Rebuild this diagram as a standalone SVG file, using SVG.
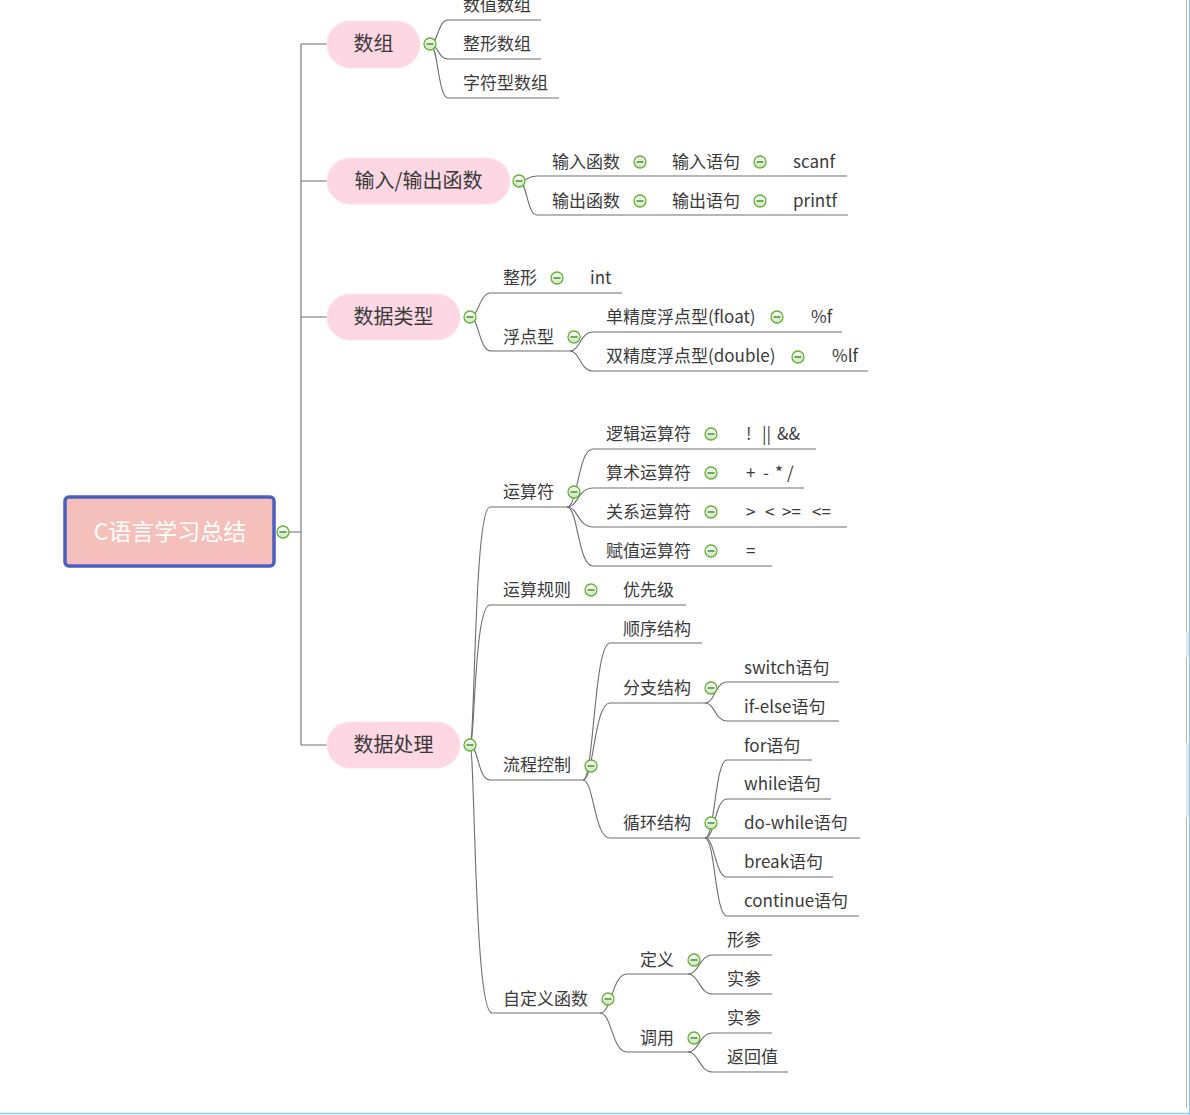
<svg xmlns="http://www.w3.org/2000/svg" xmlns:xlink="http://www.w3.org/1999/xlink" width="1190" height="1115" viewBox="0 0 1190 1115">
<defs>
<linearGradient id="cg" x1="0" y1="0" x2="0" y2="1">
<stop offset="0" stop-color="#ffffff"/>
<stop offset="1" stop-color="#cde3bf"/>
</linearGradient>
<g id="minus">
<circle cx="0" cy="0" r="6" fill="url(#cg)" stroke="#64b037" stroke-width="1.3"/>
<line x1="-3.5" y1="0" x2="3.5" y2="0" stroke="#3f8a1f" stroke-width="1.4"/>
</g>
</defs>
<style>
.t{font-family:"Noto Sans CJK SC","Microsoft YaHei","Noto Sans",sans-serif;font-size:17px;fill:#3a3a3a}
.m{font-family:"Noto Sans CJK SC","Microsoft YaHei","Noto Sans",sans-serif;font-size:20px;fill:#3a3a3a;text-anchor:middle}
.r{font-family:"Noto Sans CJK SC","Microsoft YaHei","Noto Sans",sans-serif;font-size:23px;fill:#ffffff;text-anchor:middle}
.pill{fill:#fdd7e4;stroke:#fbe4ec;stroke-width:1}
.c{fill:none;stroke:#6e6e6e;stroke-width:1.1}
</style>
<rect x="0" y="0" width="1190" height="1115" fill="#ffffff"/>

<g id="connectors">
<path class="c" d="M289 532 H301 M301 44 V745 M301 44 H327 M301 181 H327 M301 317 H327 M301 745 H327"/>
<path class="c" d="M430 44 C438 44 438 20 448 20 H541"/>
<path class="c" d="M430 44 C438 44 438 59 448 59 H541"/>
<path class="c" d="M430 44 C438 44 438 98 448 98 H559"/>
<path class="c" d="M519 181 C527 181 527 176 537 176 H847"/>
<path class="c" d="M519 181 C527 181 527 215 537 215 H848"/>
<path class="c" d="M470 317 C479 317 479 293 491 293 H622"/>
<path class="c" d="M470 317 C479 317 479 351 491 351 H570"/>
<path class="c" d="M570 351 C580 351 580 332 593 332 H842"/>
<path class="c" d="M570 351 C580 351 580 371 593 371 H868"/>
<path class="c" d="M470 745 C475 745 474 507 490 507 H567"/>
<path class="c" d="M470 745 C475 745 474 605 490 605 H686"/>
<path class="c" d="M470 745 C478 745 478 780 490 780 H583"/>
<path class="c" d="M470 745 C475 745 474 1013 492 1013 H600"/>
<path class="c" d="M567 507 C578 507 578 449 593 449 H816"/>
<path class="c" d="M567 507 C578 507 578 488 593 488 H804"/>
<path class="c" d="M567 507 C578 507 578 527 593 527 H847"/>
<path class="c" d="M567 507 C578 507 578 566 593 566 H772"/>
<path class="c" d="M583 780 C594 780 594 643 610 643 H702"/>
<path class="c" d="M583 780 C594 780 594 703 610 703 H705"/>
<path class="c" d="M583 780 C594 780 594 838 610 838 H705"/>
<path class="c" d="M705 703 C715 703 715 682 727 682 H839"/>
<path class="c" d="M705 703 C715 703 715 721 727 721 H839"/>
<path class="c" d="M705 838 C715 838 715 760 727 760 H812"/>
<path class="c" d="M705 838 C715 838 715 799 727 799 H831"/>
<path class="c" d="M705 838 H860"/>
<path class="c" d="M705 838 C715 838 715 877 727 877 H833"/>
<path class="c" d="M705 838 C715 838 715 916 727 916 H859"/>
<path class="c" d="M600 1013 C612 1013 612 974 627 974 H688"/>
<path class="c" d="M600 1013 C612 1013 612 1052 627 1052 H688"/>
<path class="c" d="M688 974 C699 974 699 955 713 955 H772"/>
<path class="c" d="M688 974 C699 974 699 994 713 994 H772"/>
<path class="c" d="M688 1052 C699 1052 699 1033 713 1033 H772"/>
<path class="c" d="M688 1052 C699 1052 699 1072 713 1072 H788"/>
</g>

<g id="root">
<rect x="65" y="497" width="209" height="69" rx="4" fill="#f5c0bc" stroke="#4a5fbf" stroke-width="3.5"/>
<text class="r" x="170" y="540">C语言学习总结</text>
<use xlink:href="#minus" x="283" y="532"/>
</g>

<g id="n-shuzu">
<rect class="pill" x="327" y="21" width="93" height="47" rx="23.5"/>
<text class="m" x="373.5" y="51">数组</text>
<use xlink:href="#minus" x="430" y="44"/>
</g>
<g id="n-shuzhishuzu"><text class="t" x="463" y="11">数值数组</text></g>
<g id="n-zhengxingshuzu"><text class="t" x="463" y="50">整形数组</text></g>
<g id="n-zifuxingshuzu"><text class="t" x="463" y="89">字符型数组</text></g>

<g id="n-io">
<rect class="pill" x="327" y="158" width="183" height="46" rx="23"/>
<text class="m" x="418.5" y="188">输入/输出函数</text>
<use xlink:href="#minus" x="519" y="181"/>
</g>
<g id="n-input"><text class="t" x="552" y="168">输入函数</text><use xlink:href="#minus" x="640" y="162"/></g>
<g id="n-input-stmt"><text class="t" x="672" y="168">输入语句</text><use xlink:href="#minus" x="760" y="162"/></g>
<g id="n-scanf"><text class="t" x="793" y="168">scanf</text></g>
<g id="n-output"><text class="t" x="552" y="207">输出函数</text><use xlink:href="#minus" x="640" y="201"/></g>
<g id="n-output-stmt"><text class="t" x="672" y="207">输出语句</text><use xlink:href="#minus" x="760" y="201"/></g>
<g id="n-printf"><text class="t" x="793" y="207">printf</text></g>

<g id="n-types">
<rect class="pill" x="327" y="294" width="133" height="46" rx="23"/>
<text class="m" x="393.5" y="324">数据类型</text>
<use xlink:href="#minus" x="470" y="317"/>
</g>
<g id="n-zhengxing"><text class="t" x="503" y="284">整形</text><use xlink:href="#minus" x="557" y="278"/></g>
<g id="n-int"><text class="t" x="590" y="284">int</text></g>
<g id="n-fudian"><text class="t" x="503" y="343">浮点型</text><use xlink:href="#minus" x="574" y="337"/></g>
<g id="n-float"><text class="t" x="606" y="323">单精度浮点型(float)</text><use xlink:href="#minus" x="777" y="317"/></g>
<g id="n-pf"><text class="t" x="811" y="323">%f</text></g>
<g id="n-double"><text class="t" x="606" y="362">双精度浮点型(double)</text><use xlink:href="#minus" x="798" y="357"/></g>
<g id="n-plf"><text class="t" x="832" y="362">%lf</text></g>

<g id="n-proc">
<rect class="pill" x="327" y="722" width="133" height="46" rx="23"/>
<text class="m" x="393.5" y="752">数据处理</text>
<use xlink:href="#minus" x="470" y="745"/>
</g>
<g id="n-ops"><text class="t" x="503" y="498">运算符</text><use xlink:href="#minus" x="574" y="492"/></g>
<g id="n-logic"><text class="t" x="606" y="440">逻辑运算符</text><use xlink:href="#minus" x="711" y="434"/></g>
<g id="n-logic-v"><text class="t" y="440"><tspan x="746">!</tspan><tspan x="762">||</tspan><tspan x="777">&amp;&amp;</tspan></text></g>
<g id="n-arith"><text class="t" x="606" y="479">算术运算符</text><use xlink:href="#minus" x="711" y="473"/></g>
<g id="n-arith-v"><text class="t" y="479"><tspan x="746">+</tspan><tspan x="763">-</tspan><tspan x="775">*</tspan><tspan x="787">/</tspan></text></g>
<g id="n-rel"><text class="t" x="606" y="518">关系运算符</text><use xlink:href="#minus" x="711" y="512"/></g>
<g id="n-rel-v"><text class="t" y="518"><tspan x="746">&gt;</tspan><tspan x="765">&lt;</tspan><tspan x="782">&gt;=</tspan><tspan x="812">&lt;=</tspan></text></g>
<g id="n-assign"><text class="t" x="606" y="557">赋值运算符</text><use xlink:href="#minus" x="711" y="551"/></g>
<g id="n-assign-v"><text class="t" x="746" y="557">=</text></g>
<g id="n-rules"><text class="t" x="503" y="596">运算规则</text><use xlink:href="#minus" x="591" y="590"/></g>
<g id="n-prio"><text class="t" x="623" y="596">优先级</text></g>
<g id="n-flow"><text class="t" x="503" y="771">流程控制</text><use xlink:href="#minus" x="591" y="766"/></g>
<g id="n-seq"><text class="t" x="623" y="635">顺序结构</text></g>
<g id="n-branch"><text class="t" x="623" y="694">分支结构</text><use xlink:href="#minus" x="711" y="688"/></g>
<g id="n-switch"><text class="t" x="744" y="674">switch语句</text></g>
<g id="n-ifelse"><text class="t" x="744" y="713">if-else语句</text></g>
<g id="n-loop"><text class="t" x="623" y="829">循环结构</text><use xlink:href="#minus" x="711" y="823"/></g>
<g id="n-for"><text class="t" x="744" y="752">for语句</text></g>
<g id="n-while"><text class="t" x="744" y="790">while语句</text></g>
<g id="n-dowhile"><text class="t" x="744" y="829">do-while语句</text></g>
<g id="n-break"><text class="t" x="744" y="868">break语句</text></g>
<g id="n-continue"><text class="t" x="744" y="907">continue语句</text></g>
<g id="n-func"><text class="t" x="503" y="1005">自定义函数</text><use xlink:href="#minus" x="608" y="999"/></g>
<g id="n-def"><text class="t" x="640" y="966">定义</text><use xlink:href="#minus" x="694" y="960"/></g>
<g id="n-formal"><text class="t" x="727" y="946">形参</text></g>
<g id="n-actual1"><text class="t" x="727" y="985">实参</text></g>
<g id="n-call"><text class="t" x="640" y="1044">调用</text><use xlink:href="#minus" x="694" y="1038"/></g>
<g id="n-actual2"><text class="t" x="727" y="1024">实参</text></g>
<g id="n-ret"><text class="t" x="727" y="1063">返回值</text></g>

<line x1="1186.5" y1="0" x2="1186.5" y2="1108" stroke="#b8b8b8" stroke-width="1"/>
<rect x="1186" y="632" width="3" height="25" fill="#e6e6e6"/>
<rect x="1186" y="743" width="3" height="74" fill="#e6e6e6"/>
<line x1="1189.5" y1="0" x2="1189.5" y2="1115" stroke="#86cdf2" stroke-width="1"/>
<line x1="0" y1="1113.5" x2="1190" y2="1113.5" stroke="#86cdf2" stroke-width="1.5"/>
</svg>
